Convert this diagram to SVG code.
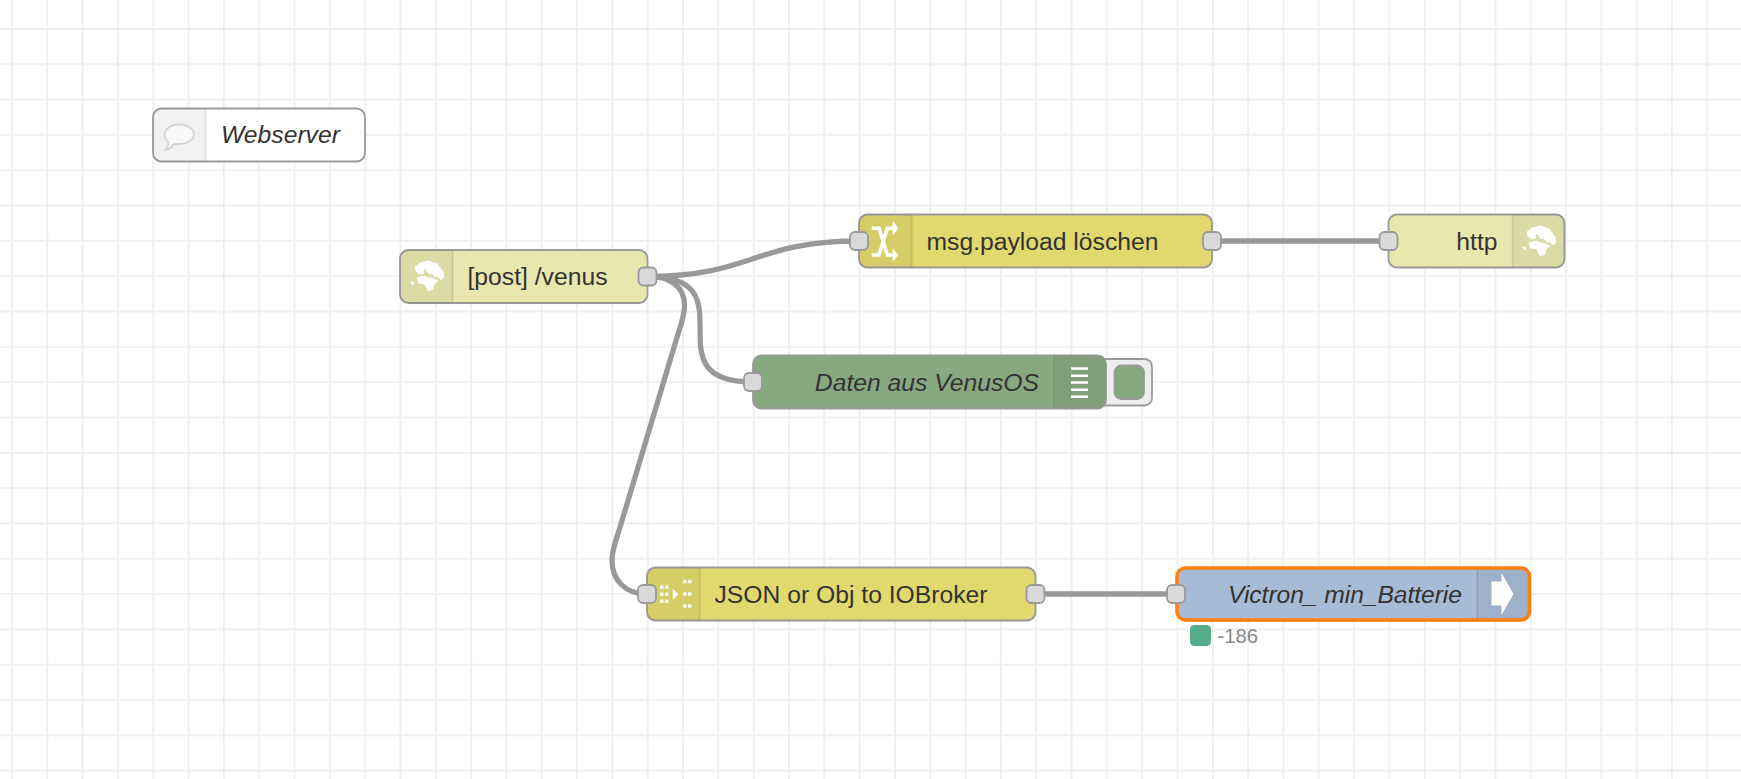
<svg xmlns="http://www.w3.org/2000/svg" width="1741" height="779" viewBox="0 0 1741 779">
<defs>
<pattern id="grid" x="11" y="28" width="35.32" height="35.32" patternUnits="userSpaceOnUse">
<path d="M0 0H35.32M0 0V35.32" fill="none" stroke="#eeeeee" stroke-width="3.6"/>
</pattern>
<g id="globe" fill="#fff" stroke="#fff" stroke-width="1" stroke-linejoin="round">
<path d="M-12 -9L-7 -13L1 -15L10 -12L16 -4L16.500 2L14 4L11 0L8 1L6 -2L1 -3L-1 -7L-4 -7L-3 -3L-8 -2L-11 -5Z"/>
<path d="M-10 2L-3 0L0 1.500L5 2.500L11 5L7 8L6 13L1 15L-2 8L-8 7Z"/>
<path d="M-16 6L-14 6L-13 8L-15 9Z"/>
</g>
</defs>
<style>
.body{stroke:#999;stroke-width:1.8}
.t{font:24.7px "Liberation Sans",Arial,sans-serif;fill:#333}
.i{font-style:italic}
.wire{fill:none;stroke:#999;stroke-width:5.3}
.port{fill:#d9d9d9;stroke:#999;stroke-width:1.8}
.div{stroke-width:1.8;stroke-opacity:.1;stroke:#000}
</style>
<rect width="1741" height="779" fill="#fff"/>
<rect width="1741" height="779" fill="url(#grid)"/>

<g id="connectors">
<path class="wire" d="M647.5 276.400C753 276.400 753 241 859 241"/>
<path class="wire" d="M647.5 276.400C753 276.400 647 382 753 382"/>
<path class="wire" d="M647.5 276.400C672 276.400 685 288 684.500 306C684.200 316 682 322 678 334L621 524C616 541 612 549 612 560C612 580 625 594 647 594"/>
<path class="wire" d="M1212 241H1388"/>
<path class="wire" d="M1035.700 594H1176"/>
</g>

<g id="comment">
<rect x="153" y="108.500" width="212" height="53" rx="8.500" fill="#fff"/>
<path d="M161.500 108.500H205.500V161.500H161.500A8.500 8.500 0 0 1 153 153V117A8.500 8.500 0 0 1 161.500 108.500Z" fill="#f2f2f2"/>
<path d="M205.500 109V161" stroke="#ddd" stroke-width="1.800"/>
<path d="M179 124.500C188 124.500 194 129 194 134.500C194 140 187 144 179 144C177 144 175.500 144 174 143.800C172 147 169 149.500 165.500 149.800C167.500 147.500 168.500 145 168.500 142C166 140 164.500 137.500 164.500 134.500C164.500 129 171 124.500 179 124.500Z" fill="#f8f8f8" stroke="#d5d5d5" stroke-width="1.800"/>
<rect class="body" x="153" y="108.500" width="212" height="53" rx="8.500" fill="none"/>
<text class="t i" x="221" y="143">Webserver</text>
</g>

<g id="http-in">
<rect class="body" x="400" y="250" width="247.500" height="53" rx="8.500" fill="#e7e7ae"/>
<path d="M408.500 250H452.700V303H408.500A8.500 8.500 0 0 1 400 294.500V258.500A8.500 8.500 0 0 1 408.500 250Z" fill="#000" fill-opacity=".05"/>
<path class="div" d="M452.700 251V302"/>
<use href="#globe" transform="translate(427 276)"/>
<text class="t" x="467.500" y="285">[post] /venus</text>
<rect class="port" x="638.500" y="267.500" width="18" height="18" rx="5"/>
</g>

<g id="change">
<rect class="body" x="859" y="214.500" width="353" height="53" rx="8.500" fill="#e2d96e"/>
<path d="M867.500 214.500H911.700V267.500H867.500A8.500 8.500 0 0 1 859 259V223A8.500 8.500 0 0 1 867.500 214.500Z" fill="#000" fill-opacity=".05"/>
<path class="div" d="M911.700 215V267"/>
<path d="M871.700 228.300H879L887.300 255H893.500M871.700 255H879L887.300 228.300H893.500" fill="none" stroke="#fff" stroke-width="3.600"/>
<path d="M892.700 248.300L898.300 255L892.700 261.700ZM892.700 220.700L898.300 228.300L892.700 235.700Z" fill="#fff"/>
<text class="t" x="926.500" y="250">msg.payload löschen</text>
<rect class="port" x="850" y="232" width="18" height="18" rx="5"/>
<rect class="port" x="1203" y="232" width="18" height="18" rx="5"/>
</g>

<g id="debug">
<path d="M1100 359H1144.500A7.500 7.500 0 0 1 1152 366.500V398A7.500 7.500 0 0 1 1144.500 405.500H1100Z" fill="#eee" stroke="#999" stroke-width="1.800"/>
<rect x="1114.500" y="365.500" width="29.500" height="33.500" rx="7" fill="#87a980" stroke="#999" stroke-width="1.800"/>
<rect class="body" x="753" y="355.500" width="353" height="53" rx="8.500" fill="#87a980"/>
<path d="M1054 355.500H1097.500A8.500 8.500 0 0 1 1106 364V400A8.500 8.500 0 0 1 1097.500 408.500H1054Z" fill="#000" fill-opacity=".05"/>
<path class="div" d="M1054 356V408"/>
<path d="M1071 368.500H1088M1071 375.700H1088M1071 382.500H1088M1071 389.700H1088M1071 396.800H1088" stroke="#fff" stroke-width="2.400"/>
<text class="t i" x="1039" y="391" text-anchor="end">Daten aus VenusOS</text>
<rect class="port" x="744" y="373" width="18" height="18" rx="5"/>
</g>

<g id="http-response">
<rect class="body" x="1388.500" y="214.500" width="176" height="53" rx="8.500" fill="#e7e7ae"/>
<path d="M1512.700 214.500H1556A8.500 8.500 0 0 1 1564.500 223V259A8.500 8.500 0 0 1 1556 267.500H1512.700Z" fill="#000" fill-opacity=".05"/>
<path class="div" d="M1512.700 215V267"/>
<use href="#globe" transform="translate(1539 241)"/>
<text class="t" x="1497.500" y="250" text-anchor="end">http</text>
<rect class="port" x="1379.500" y="232" width="18" height="18" rx="5"/>
</g>

<g id="json">
<rect class="body" x="647" y="567.500" width="388.500" height="53" rx="8.500" fill="#e2d96e"/>
<path d="M655.500 567.500H699.700V620.500H655.500A8.500 8.500 0 0 1 647 612V576A8.500 8.500 0 0 1 655.500 567.500Z" fill="#000" fill-opacity=".05"/>
<path class="div" d="M699.700 568V620"/>
<path d="M660 585.500h3.500v3.500h-3.500zM665 585.500h3.500v3.500h-3.500zM660 592.500h3.500v3.500h-3.500zM665 592.500h3.500v3.500h-3.500zM660 599.500h3.500v3.500h-3.500zM665 599.500h3.500v3.500h-3.500zM683 579.700h3.500v3.500h-3.500zM688 579.700h3.500v3.500h-3.500zM683 592.200h3.500v3.500h-3.500zM688 592.200h3.500v3.500h-3.500zM683 604.300h3.500v3.500h-3.500zM688 604.300h3.500v3.500h-3.500zM672.700 588.500L678.500 594.300L672.700 600.300Z" fill="#fff" fill-opacity=".9"/>
<text class="t" x="714.500" y="603">JSON or Obj to IOBroker</text>
<rect class="port" x="638" y="585" width="18" height="18" rx="5"/>
<rect class="port" x="1026.500" y="585" width="18" height="18" rx="5"/>
</g>

<g id="iobroker-out">
<rect x="1177" y="568" width="352.500" height="52" rx="8.500" fill="#a6bbd5" stroke="#ff7f0e" stroke-width="3.600"/>
<path d="M1477.300 569.800H1520.700A7 7 0 0 1 1527.700 576.800V611.200A7 7 0 0 1 1520.700 618.200H1477.300Z" fill="#000" fill-opacity=".05"/>
<path class="div" d="M1477.300 570V618"/>
<path d="M1491.500 581.500H1501.500V573L1513.500 594L1501.500 615V605.500H1491.500Z" fill="#fff"/>
<text class="t i" x="1228" y="603" textLength="234" lengthAdjust="spacing">Victron_ min_Batterie</text>
<rect class="port" x="1167" y="585" width="18" height="18" rx="5"/>
<rect x="1190" y="625" width="21" height="21" rx="4.500" fill="#55ac8a"/>
<text x="1217.500" y="643" font-family="Liberation Sans, Arial, sans-serif" font-size="20.300" fill="#888">-186</text>
</g>
</svg>
